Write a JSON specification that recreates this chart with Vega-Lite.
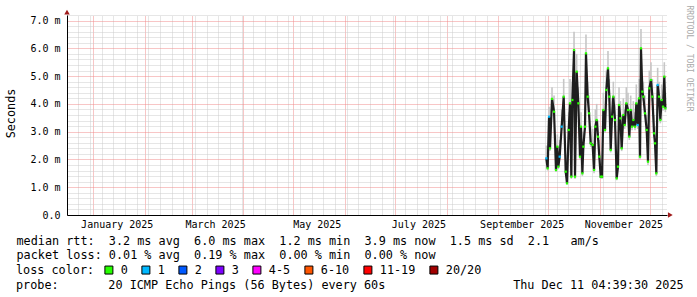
{
  "$schema": "https://vega.github.io/schema/vega-lite/v6.json",
  "width": 600,
  "height": 200,
  "autosize": {"type": "none"},
  "padding": {"left": 67, "top": 15, "right": 30, "bottom": 82},
  "background": "#ffffff",
  "config": {"view": {"stroke": null}, "font": "DejaVu Sans Mono"},
  "title": {
    "text": "probe:\u00a0\u00a0\u00a0\u00a0\u00a0\u00a0\u00a020 ICMP Echo Pings (56 Bytes) every 60s\u00a0\u00a0\u00a0\u00a0\u00a0\u00a0\u00a0\u00a0\u00a0\u00a0\u00a0\u00a0\u00a0\u00a0\u00a0\u00a0\u00a0\u00a0Thu Dec 11 04:39:30 2025",
    "orient": "bottom", "anchor": "start", "frame": "group", "dx": -51, "offset": 12,
    "baseline": "alphabetic", "align": "left",
    "font": "DejaVu Sans Mono", "fontSize": 11.8, "fontWeight": "normal", "color": "#000000"
  },
  "data": {"values": [
    {"t":"2025-09-29T19:00:00Z","rtt":2.04,"lo":1.95,"hi":2.5,"loss":"1"},
    {"t":"2025-09-30T14:00:00Z","rtt":1.68,"lo":1.6,"hi":2.1,"loss":"0"},
    {"t":"2025-10-01T10:00:00Z","rtt":3.54,"lo":3.4,"hi":3.9,"loss":"1"},
    {"t":"2025-10-02T00:00:00Z","rtt":2.40,"lo":2.3,"hi":3.0,"loss":"0"},
    {"t":"2025-10-03T05:00:00Z","rtt":4.18,"lo":4.05,"hi":4.6,"loss":"0"},
    {"t":"2025-10-04T10:00:00Z","rtt":3.72,"lo":3.6,"hi":4.3,"loss":"0"},
    {"t":"2025-10-05T14:00:00Z","rtt":1.62,"lo":1.55,"hi":2.2,"loss":"0"},
    {"t":"2025-10-06T10:00:00Z","rtt":2.46,"lo":2.35,"hi":2.9,"loss":"0"},
    {"t":"2025-10-07T00:00:00Z","rtt":1.74,"lo":1.65,"hi":2.3,"loss":"0"},
    {"t":"2025-10-07T19:00:00Z","rtt":2.10,"lo":2.0,"hi":2.7,"loss":"1"},
    {"t":"2025-10-09T00:00:00Z","rtt":3.18,"lo":3.05,"hi":3.8,"loss":"1"},
    {"t":"2025-10-10T05:00:00Z","rtt":4.26,"lo":4.1,"hi":4.9,"loss":"0"},
    {"t":"2025-10-11T10:00:00Z","rtt":1.56,"lo":1.45,"hi":2.2,"loss":"0"},
    {"t":"2025-10-12T05:00:00Z","rtt":1.14,"lo":1.1,"hi":1.7,"loss":"0"},
    {"t":"2025-10-13T05:00:00Z","rtt":3.06,"lo":2.95,"hi":3.7,"loss":"0"},
    {"t":"2025-10-14T00:00:00Z","rtt":4.02,"lo":3.9,"hi":4.9,"loss":"0"},
    {"t":"2025-10-14T19:00:00Z","rtt":1.38,"lo":1.3,"hi":2.0,"loss":"0"},
    {"t":"2025-10-15T10:00:00Z","rtt":4.14,"lo":4.0,"hi":4.8,"loss":"0"},
    {"t":"2025-10-16T10:00:00Z","rtt":5.94,"lo":5.8,"hi":6.6,"loss":"0"},
    {"t":"2025-10-17T00:00:00Z","rtt":1.38,"lo":1.3,"hi":2.1,"loss":"0"},
    {"t":"2025-10-18T00:00:00Z","rtt":5.16,"lo":5.0,"hi":5.8,"loss":"0"},
    {"t":"2025-10-19T00:00:00Z","rtt":4.02,"lo":3.9,"hi":4.6,"loss":"0"},
    {"t":"2025-10-20T00:00:00Z","rtt":2.10,"lo":2.0,"hi":2.8,"loss":"0"},
    {"t":"2025-10-20T14:00:00Z","rtt":3.18,"lo":3.05,"hi":3.7,"loss":"0"},
    {"t":"2025-10-21T10:00:00Z","rtt":1.50,"lo":1.4,"hi":2.1,"loss":"0"},
    {"t":"2025-10-22T00:00:00Z","rtt":2.46,"lo":2.35,"hi":3.0,"loss":"0"},
    {"t":"2025-10-23T00:00:00Z","rtt":3.18,"lo":3.05,"hi":3.9,"loss":"0"},
    {"t":"2025-10-23T14:00:00Z","rtt":5.82,"lo":5.7,"hi":6.5,"loss":"0"},
    {"t":"2025-10-24T14:00:00Z","rtt":4.26,"lo":4.1,"hi":4.8,"loss":"0"},
    {"t":"2025-10-25T10:00:00Z","rtt":3.66,"lo":3.55,"hi":4.3,"loss":"0"},
    {"t":"2025-10-26T10:00:00Z","rtt":2.58,"lo":2.45,"hi":3.2,"loss":"0"},
    {"t":"2025-10-27T14:00:00Z","rtt":2.52,"lo":2.4,"hi":3.1,"loss":"0"},
    {"t":"2025-10-28T10:00:00Z","rtt":1.62,"lo":1.5,"hi":2.3,"loss":"0"},
    {"t":"2025-10-29T05:00:00Z","rtt":3.18,"lo":3.05,"hi":3.8,"loss":"0"},
    {"t":"2025-10-30T00:00:00Z","rtt":3.42,"lo":3.3,"hi":4.0,"loss":"0"},
    {"t":"2025-10-30T19:00:00Z","rtt":2.82,"lo":2.7,"hi":3.4,"loss":"0"},
    {"t":"2025-10-31T14:00:00Z","rtt":2.10,"lo":2.0,"hi":2.7,"loss":"0"},
    {"t":"2025-11-01T10:00:00Z","rtt":1.38,"lo":1.3,"hi":2.0,"loss":"0"},
    {"t":"2025-11-02T05:00:00Z","rtt":1.38,"lo":1.3,"hi":1.9,"loss":"0"},
    {"t":"2025-11-03T00:00:00Z","rtt":3.78,"lo":3.65,"hi":4.4,"loss":"0"},
    {"t":"2025-11-04T00:00:00Z","rtt":3.06,"lo":2.95,"hi":3.6,"loss":"0"},
    {"t":"2025-11-04T19:00:00Z","rtt":4.50,"lo":4.35,"hi":5.2,"loss":"0"},
    {"t":"2025-11-05T19:00:00Z","rtt":5.28,"lo":5.15,"hi":5.9,"loss":"0"},
    {"t":"2025-11-06T14:00:00Z","rtt":4.26,"lo":4.1,"hi":4.9,"loss":"0"},
    {"t":"2025-11-07T10:00:00Z","rtt":2.34,"lo":2.25,"hi":2.9,"loss":"0"},
    {"t":"2025-11-08T05:00:00Z","rtt":3.54,"lo":3.4,"hi":4.2,"loss":"0"},
    {"t":"2025-11-09T00:00:00Z","rtt":4.26,"lo":4.1,"hi":4.8,"loss":"0"},
    {"t":"2025-11-10T00:00:00Z","rtt":3.42,"lo":3.3,"hi":4.0,"loss":"0"},
    {"t":"2025-11-11T00:00:00Z","rtt":1.32,"lo":1.25,"hi":1.9,"loss":"0"},
    {"t":"2025-11-11T19:00:00Z","rtt":1.74,"lo":1.65,"hi":2.3,"loss":"0"},
    {"t":"2025-11-12T10:00:00Z","rtt":3.96,"lo":3.85,"hi":4.6,"loss":"0"},
    {"t":"2025-11-13T05:00:00Z","rtt":3.48,"lo":3.35,"hi":4.1,"loss":"0"},
    {"t":"2025-11-14T00:00:00Z","rtt":2.40,"lo":2.3,"hi":3.0,"loss":"0"},
    {"t":"2025-11-15T00:00:00Z","rtt":3.60,"lo":3.5,"hi":4.2,"loss":"0"},
    {"t":"2025-11-15T19:00:00Z","rtt":3.24,"lo":3.1,"hi":3.8,"loss":"0"},
    {"t":"2025-11-16T19:00:00Z","rtt":4.02,"lo":3.9,"hi":4.6,"loss":"0"},
    {"t":"2025-11-17T19:00:00Z","rtt":3.78,"lo":3.65,"hi":4.4,"loss":"0"},
    {"t":"2025-11-18T14:00:00Z","rtt":2.82,"lo":2.7,"hi":3.4,"loss":"0"},
    {"t":"2025-11-19T10:00:00Z","rtt":3.78,"lo":3.65,"hi":4.3,"loss":"0"},
    {"t":"2025-11-20T05:00:00Z","rtt":3.18,"lo":3.05,"hi":3.8,"loss":"0"},
    {"t":"2025-11-21T00:00:00Z","rtt":3.42,"lo":3.3,"hi":4.1,"loss":"0"},
    {"t":"2025-11-22T00:00:00Z","rtt":3.18,"lo":3.05,"hi":3.7,"loss":"0"},
    {"t":"2025-11-22T19:00:00Z","rtt":4.02,"lo":3.9,"hi":4.7,"loss":"0"},
    {"t":"2025-11-23T14:00:00Z","rtt":3.24,"lo":3.1,"hi":3.9,"loss":"1"},
    {"t":"2025-11-24T10:00:00Z","rtt":4.20,"lo":4.05,"hi":4.9,"loss":"0"},
    {"t":"2025-11-25T00:00:00Z","rtt":2.10,"lo":2.0,"hi":2.6,"loss":"0"},
    {"t":"2025-11-25T14:00:00Z","rtt":6.00,"lo":5.85,"hi":6.7,"loss":"0"},
    {"t":"2025-11-26T10:00:00Z","rtt":4.44,"lo":4.3,"hi":5.0,"loss":"0"},
    {"t":"2025-11-27T00:00:00Z","rtt":4.26,"lo":4.1,"hi":4.8,"loss":"0"},
    {"t":"2025-11-28T00:00:00Z","rtt":3.66,"lo":3.55,"hi":4.3,"loss":"0"},
    {"t":"2025-11-29T00:00:00Z","rtt":3.06,"lo":2.95,"hi":3.6,"loss":"0"},
    {"t":"2025-11-29T19:00:00Z","rtt":1.92,"lo":1.8,"hi":2.5,"loss":"0"},
    {"t":"2025-11-30T14:00:00Z","rtt":4.56,"lo":4.4,"hi":5.2,"loss":"0"},
    {"t":"2025-12-01T14:00:00Z","rtt":4.86,"lo":4.7,"hi":5.5,"loss":"0"},
    {"t":"2025-12-02T10:00:00Z","rtt":4.26,"lo":4.1,"hi":4.9,"loss":"0"},
    {"t":"2025-12-03T10:00:00Z","rtt":2.94,"lo":2.8,"hi":3.6,"loss":"0"},
    {"t":"2025-12-04T00:00:00Z","rtt":2.58,"lo":2.45,"hi":3.2,"loss":"0"},
    {"t":"2025-12-04T19:00:00Z","rtt":1.50,"lo":1.4,"hi":2.1,"loss":"0"},
    {"t":"2025-12-05T14:00:00Z","rtt":4.68,"lo":4.55,"hi":5.3,"loss":"1"},
    {"t":"2025-12-06T10:00:00Z","rtt":4.26,"lo":4.1,"hi":4.8,"loss":"0"},
    {"t":"2025-12-07T05:00:00Z","rtt":3.42,"lo":3.3,"hi":4.1,"loss":"0"},
    {"t":"2025-12-08T00:00:00Z","rtt":4.14,"lo":4.0,"hi":4.7,"loss":"0"},
    {"t":"2025-12-08T19:00:00Z","rtt":3.90,"lo":3.75,"hi":4.5,"loss":"0"},
    {"t":"2025-12-09T14:00:00Z","rtt":4.98,"lo":4.85,"hi":5.5,"loss":"0"},
    {"t":"2025-12-10T05:00:00Z","rtt":3.84,"lo":3.7,"hi":4.4,"loss":"0"}
  ]},
  "layer": [
    {
      "mark": {"type": "rule", "color": "#c6c6c6", "strokeWidth": 1.6},
      "encoding": {
        "x": {
          "field": "t", "type": "temporal",
          "scale": {"type": "utc", "domain": [1734323970000, 1765427970000]},
          "axis": {
            "orient": "top", "title": null, "labels": false, "ticks": false, "domain": false,
            "values": [
              1734912000000, 1735516800000, 1736121600000, 1736726400000, 1737331200000, 1737936000000,
              1738540800000, 1739145600000, 1739750400000, 1740355200000, 1740960000000, 1741564800000,
              1742169600000, 1742774400000, 1743379200000, 1743984000000, 1744588800000, 1745193600000,
              1745798400000, 1746403200000, 1747008000000, 1747612800000, 1748217600000, 1748822400000,
              1749427200000, 1750032000000, 1750636800000, 1751241600000, 1751846400000, 1752451200000,
              1753056000000, 1753660800000, 1754265600000, 1754870400000, 1755475200000, 1756080000000,
              1756684800000, 1757289600000, 1757894400000, 1758499200000, 1759104000000, 1759708800000,
              1760313600000, 1760918400000, 1761523200000, 1762128000000, 1762732800000, 1763337600000,
              1763942400000, 1764547200000, 1765152000000,
              1735689600000, 1738368000000, 1740787200000, 1743465600000, 1746057600000, 1748736000000,
              1751328000000, 1754006400000, 1759276800000, 1761955200000
            ],
            "grid": true,
            "gridColor": {"condition": {"test": "utcdate(datum.value) == 1", "value": "#f08c8c"}, "value": "#cccccc"},
            "gridDash": [1, 1]
          }
        },
        "y": {
          "field": "lo", "type": "quantitative",
          "scale": {"domain": [0, 7.2], "nice": false, "zero": false},
          "axis": {
            "orient": "left", "title": "Seconds",
            "titleX": -57, "titleY": 98, "titleAngle": -90, "titleAlign": "center", "titleBaseline": "middle",
            "titleFont": "DejaVu Sans Mono", "titleFontSize": 11.8, "titleFontWeight": "normal", "titleColor": "#000000",
            "values": [0,0.2,0.4,0.6,0.8,1,1.2,1.4,1.6,1.8,2,2.2,2.4,2.6,2.8,3,3.2,3.4,3.6,3.8,4,4.2,4.4,4.6,4.8,5,5.2,5.4,5.6,5.8,6,6.2,6.4,6.6,6.8,7,7.2],
            "labelExpr": "abs(datum.value - round(datum.value)) > 0.01 ? '' : (datum.value == 0 ? '0.0' : format(datum.value, '.1f') + ' m')",
            "labelFont": "DejaVu Sans Mono", "labelFontSize": 10, "labelColor": "#000000",
            "labelPadding": 7, "labelBaseline": "middle", "labelOverlap": false, "labelFlush": false, "labelBound": false,
            "ticks": false,
            "domain": true, "domainColor": "#000000", "domainWidth": 1,
            "grid": true,
            "gridColor": {"condition": {"test": "abs(datum.value - round(datum.value)) < 0.01", "value": "#f08c8c"}, "value": "#cccccc"},
            "gridDash": [1, 1]
          }
        },
        "y2": {"field": "hi"}
      }
    },
    {
      "mark": {"type": "line", "color": "#1e1e1e", "strokeWidth": 2.2, "interpolate": "linear"},
      "encoding": {
        "x": {
          "field": "t", "type": "temporal",
          "scale": {"type": "utc", "domain": [1734323970000, 1765427970000]},
          "axis": {
            "orient": "bottom",
            "title": [
              "median rtt:\u00a0\u00a03.2 ms avg\u00a0\u00a06.0 ms max\u00a0\u00a01.2 ms min\u00a0\u00a03.9 ms now\u00a0\u00a01.5 ms sd\u00a0\u00a02.1\u00a0\u00a0\u00a0am/s",
              "packet loss:\u00a00.01 % avg\u00a0\u00a00.19 % max\u00a0\u00a00.00 % min\u00a0\u00a00.00 % now"
            ],
            "titleAnchor": "start", "titleAlign": "left", "titleX": -51, "titleY": 29,
            "titleBaseline": "alphabetic", "titleFont": "DejaVu Sans Mono", "titleFontSize": 11.8,
            "titleFontWeight": "normal", "titleColor": "#000000", "titleLineHeight": 14.2,
            "values": [1736902800000, 1742000400000, 1747270800000, 1752541200000, 1757898000000, 1763168400000],
            "format": "%B %Y",
            "labelFont": "DejaVu Sans Mono", "labelFontSize": 10, "labelColor": "#000000",
            "labelBaseline": "alphabetic", "labelPadding": 12.7, "labelAlign": "center",
            "labelOverlap": false, "labelFlush": false, "labelBound": false,
            "ticks": false, "grid": false,
            "domain": true, "domainColor": "#000000", "domainWidth": 1
          }
        },
        "y": {
          "field": "rtt", "type": "quantitative",
          "scale": {"domain": [0, 7.2], "nice": false, "zero": false},
          "axis": {
            "orient": "right", "title": "RRDTOOL / TOBI OETIKER",
            "labels": false, "ticks": false, "domain": false, "grid": false,
            "titleAngle": 90, "titleX": 21, "titleY": -10, "titleAlign": "left", "titleBaseline": "middle",
            "titleFont": "DejaVu Sans Mono", "titleFontSize": 8, "titleFontWeight": "normal", "titleColor": "#aaaaaa"
          }
        }
      }
    },
    {
      "mark": {"type": "square", "size": 5, "filled": true, "opacity": 1},
      "encoding": {
        "x": {"field": "t", "type": "temporal", "scale": {"type": "utc", "domain": [1734323970000, 1765427970000]}, "axis": null},
        "y": {"field": "rtt", "type": "quantitative", "scale": {"domain": [0, 7.2], "nice": false, "zero": false}, "axis": null},
        "color": {
          "field": "loss", "type": "nominal",
          "scale": {
            "domain": ["0", "1", "2", "3", "4-5", "6-10", "11-19", "20/20"],
            "range": ["#26ff00", "#00b8ff", "#0059ff", "#7e00ff", "#ff00ff", "#ff5500", "#ff0000", "#a10000"]
          },
          "legend": {
            "orient": "none", "legendX": -51, "legendY": 249,
            "direction": "horizontal", "columns": 8,
            "title": "loss color:", "titleOrient": "left",
            "titleFont": "DejaVu Sans Mono", "titleFontSize": 11.8, "titleFontWeight": "normal", "titleColor": "#000000",
            "titlePadding": 8, "titleBaseline": "middle",
            "symbolType": "square", "symbolSize": 64, "symbolStrokeColor": "#000000", "symbolStrokeWidth": 1, "symbolOpacity": 1,
            "labelFont": "DejaVu Sans Mono", "labelFontSize": 11.8, "labelColor": "#000000", "labelOffset": 6,
            "columnPadding": 11, "padding": 0
          }
        }
      }
    },
    {
      "data": {"values": [{"arrow": "y"}]},
      "mark": {"type": "point", "shape": "triangle-up", "filled": true, "color": "#a01c1c", "size": 30, "opacity": 1},
      "encoding": {
        "x": {"datum": 1734323970000, "type": "temporal", "scale": {"type": "utc", "domain": [1734323970000, 1765427970000]}, "axis": null},
        "y": {"datum": 7.3, "type": "quantitative", "scale": {"domain": [0, 7.2], "nice": false, "zero": false}, "axis": null}
      }
    },
    {
      "data": {"values": [{"arrow": "x"}]},
      "mark": {"type": "point", "shape": "triangle-right", "filled": true, "color": "#a01c1c", "size": 30, "opacity": 1},
      "encoding": {
        "x": {"datum": 1765600770000, "type": "temporal", "scale": {"type": "utc", "domain": [1734323970000, 1765427970000]}, "axis": null},
        "y": {"datum": 0, "type": "quantitative", "scale": {"domain": [0, 7.2], "nice": false, "zero": false}, "axis": null}
      }
    }
  ],
  "resolve": {"axis": {"x": "independent", "y": "independent"}}
}
